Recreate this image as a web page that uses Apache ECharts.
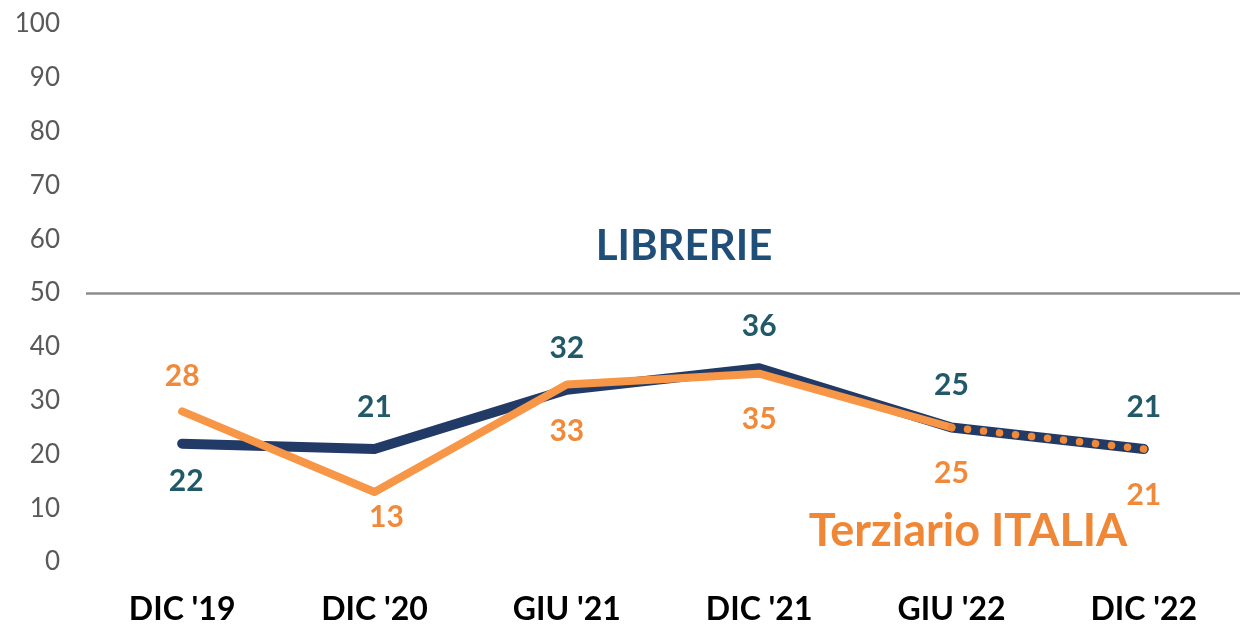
<!DOCTYPE html>
<html>
<head>
<meta charset="utf-8">
<style>
  html, body { margin: 0; padding: 0; background: #fff; }
  #main { width: 1240px; height: 626px; }
</style>
<script src="https://cdn.jsdelivr.net/npm/echarts@6/dist/echarts.min.js"></script>
</head>
<body>
<div id="main"></div>
<script>
// dati
var categories = ["DIC '19", "DIC '20", "GIU '21", "DIC '21", "GIU '22", "DIC '22"];
var librerie = [22, 21, 32, 36, 25, 21];
var terziario = [28, 13, 33, 35, 25, 21];
var yTicks = [0, 10, 20, 30, 40, 50, 60, 70, 80, 90, 100];

var FONT = 'Lato, "DejaVu Sans", sans-serif';

// offset delle etichette (stile, non dati)
var navyOffsets = [38, -42, -42, -42, -42, -42];
var navyDx = [4, 0, 0, 0, 0, 0];
var orangeOffsets = [-35, 25, 47, 46, 46, 46];
var orangeDx = [0, 12, 0, 0, 0, 0];

var myChart = echarts.init(document.getElementById('main'));

// costruisce i punti con etichetta; "show" decide quali indici etichettare
function labelled(values, offsets, color, dx, show) {
  return values.map(function (v, i) {
    if (v == null) return null;
    return {
      value: v,
      label: {
        show: show ? show(i) : true,
        position: 'inside',
        offset: [dx ? dx[i] : 0, offsets[i]],
        color: color,
        fontFamily: FONT,
        fontWeight: 'bold',
        fontSize: 30
      }
    };
  });
}

// tratto continuo fino a GIU '22, puntinato dopo
var orangeSolid = terziario.map(function (v, i) { return i <= 4 ? v : null; });
var orangeDotted = terziario.map(function (v, i) { return i >= 4 ? v : null; });

var hidden = { color: 'rgba(0,0,0,0)', borderWidth: 0 };

var option = {
  animation: false,
  grid: { left: 86, right: -7, top: 24, bottom: 63 },
  xAxis: {
    type: 'category',
    data: categories,
    boundaryGap: true,
    axisLine: { show: false },
    axisTick: { show: false },
    axisLabel: {
      margin: 32,
      color: '#000',
      fontFamily: FONT,
      fontWeight: 'bold',
      fontSize: 32
    }
  },
  yAxis: {
    type: 'value',
    min: yTicks[0],
    max: yTicks[yTicks.length - 1],
    interval: 10,
    axisLine: { show: false },
    axisTick: { show: false },
    splitLine: { show: false },
    axisLabel: {
      margin: 26,
      color: '#595959',
      fontFamily: FONT,
      fontSize: 26
    }
  },
  series: [
    {
      name: 'LIBRERIE',
      type: 'line',
      data: labelled(librerie, navyOffsets, '#215968', navyDx),
      symbol: 'circle',
      symbolSize: 1,
      showSymbol: true,
      itemStyle: hidden,
      lineStyle: { color: '#213a66', width: 10, cap: 'round', join: 'round' },
      markLine: {
        silent: true,
        symbol: 'none',
        label: { show: false },
        lineStyle: { color: '#8c8c8c', width: 2.5, type: 'solid' },
        data: [{ yAxis: 50 }]
      },
      z: 2
    },
    {
      name: 'Terziario ITALIA',
      type: 'line',
      data: labelled(orangeSolid, orangeOffsets, '#f08a3a', orangeDx),
      symbol: 'circle',
      symbolSize: 1,
      showSymbol: true,
      itemStyle: hidden,
      lineStyle: { color: '#f79646', width: 8, cap: 'round', join: 'round' },
      z: 3
    },
    {
      name: 'Terziario ITALIA (stima)',
      type: 'line',
      data: labelled(orangeDotted, orangeOffsets, '#f08a3a', orangeDx, function (i) { return i === 5; }),
      symbol: 'circle',
      symbolSize: 1,
      showSymbol: true,
      itemStyle: hidden,
      lineStyle: { color: '#f08a3a', width: 7.5, type: [0.1, 16], cap: 'round' },
      z: 4
    }
  ],
  graphic: [
    {
      type: 'text',
      x: 684, y: 246,
      style: {
        text: 'LIBRERIE',
        fill: '#1f4e79',
        font: 'bold 42px ' + FONT,
        align: 'center',
        verticalAlign: 'middle'
      }
    },
    {
      type: 'text',
      x: 968, y: 531,
      style: {
        text: 'Terziario ITALIA',
        fill: '#f08737',
        font: 'bold 45px ' + FONT,
        align: 'center',
        verticalAlign: 'middle'
      }
    }
  ]
};

myChart.setOption(option);
</script>
</body>
</html>
